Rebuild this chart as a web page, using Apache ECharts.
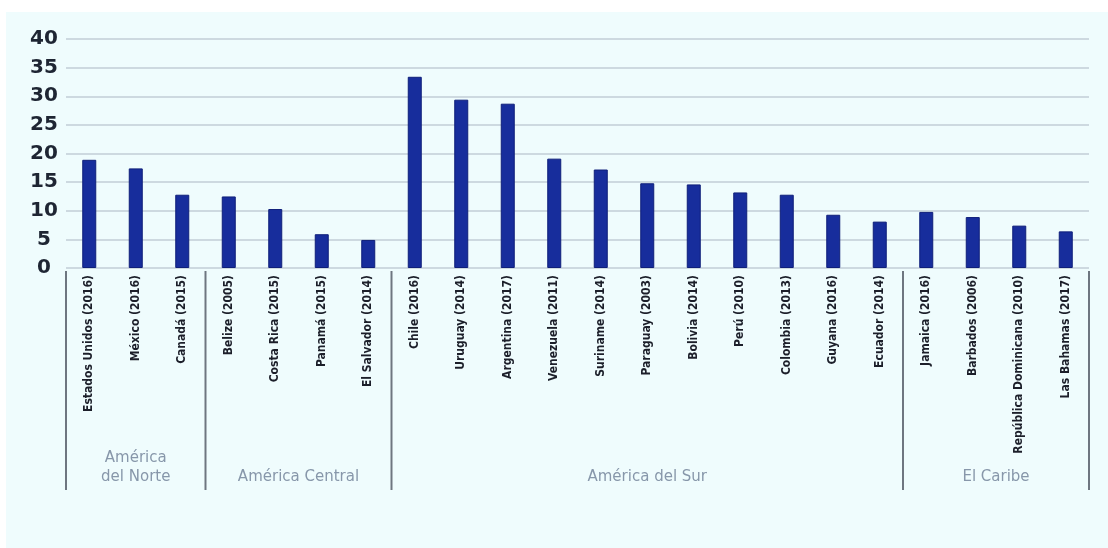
<!DOCTYPE html>
<html>
<head>
<meta charset="utf-8">
<script src="https://cdn.jsdelivr.net/npm/echarts@6/dist/echarts.min.js"></script>
<style>
	html, body { margin: 0; padding: 0; background: #ffffff; }
	#chart { position: absolute; left: 6px; top: 12px; width: 1102px; height: 536px; background: #effcfd; }
</style>
</head>
<body>
<div id="chart"></div>
<script>
	// países y valores
	var paises = [
		'Estados Unidos (2016)', 'México (2016)', 'Canadá (2015)',
		'Belize (2005)', 'Costa Rica (2015)', 'Panamá (2015)', 'El Salvador (2014)',
		'Chile (2016)', 'Uruguay (2014)', 'Argentina (2017)', 'Venezuela (2011)',
		'Suriname (2014)', 'Paraguay (2003)', 'Bolivia (2014)', 'Perú (2010)',
		'Colombia (2013)', 'Guyana (2016)', 'Ecuador (2014)',
		'Jamaica (2016)', 'Barbados (2006)', 'República Dominicana (2010)', 'Las Bahamas (2017)'
	];
	var valores = [
		18.9, 17.4, 12.8,
		12.5, 10.3, 5.9, 4.9,
		33.4, 29.4, 28.7, 19.1, 17.2, 14.8, 14.6, 13.2, 12.8, 9.3, 8.1,
		9.8, 8.9, 7.4, 6.4
	];
	// regiones y sus límites (índice del primer país de cada una, y el total)
	var regiones = ['América\ndel Norte', 'América Central', 'América del Sur', 'El Caribe'];
	var limites = [0, 3, 7, 18, 22];
	var ticksY = [0, 5, 10, 15, 20, 25, 30, 35, 40];

	var myChart = echarts.init(document.getElementById('chart'));

	var separadores = limites.map(function (v) { return [v, 0]; });
	var etiquetas = regiones.map(function (r, i) {
		return [(limites[i] + limites[i + 1]) / 2, 0, r];
	});

	var option = {
		animation: false,
		grid: { left: 60, right: 19, top: 27, bottom: 280, containLabel: false },
		xAxis: [{
			type: 'category',
			data: paises,
			axisLine: { show: false },
			axisTick: { show: false },
			axisLabel: {
				rotate: 90,
				interval: 0,
				margin: 7,
				fontFamily: "'DejaVu Sans Condensed', sans-serif",
				fontWeight: 'bold',
				fontSize: 12,
				color: '#1c1f2a'
			}
		}, {
			type: 'value',
			min: 0,
			max: 22,
			show: false
		}],
		yAxis: {
			type: 'value',
			min: ticksY[0],
			max: ticksY[ticksY.length - 1],
			interval: 5,
			axisLine: { show: false },
			axisTick: { show: false },
			axisLabel: {
				align: 'center',
				margin: 22,
				fontFamily: "'DejaVu Sans', sans-serif",
				fontWeight: 'bold',
				fontSize: 20,
				color: '#1e2533'
			},
			splitLine: { lineStyle: { color: '#cdd9e0', width: 2 } }
		},
		series: [{
			type: 'bar',
			data: valores,
			barWidth: 14,
			itemStyle: { color: '#172d9c', borderColor: '#0f1f7a', borderWidth: 1 }
		}, {
			type: 'custom',
			xAxisIndex: 1,
			data: separadores,
			clip: false,
			silent: true,
			renderItem: function (params, api) {
				var p = api.coord([api.value(0), api.value(1)]);
				return {
					type: 'line',
					shape: { x1: p[0], y1: p[1] + 3, x2: p[0], y2: p[1] + 222 },
					style: { stroke: '#6e7680', lineWidth: 2 }
				};
			}
		}, {
			type: 'custom',
			xAxisIndex: 1,
			data: etiquetas,
			clip: false,
			silent: true,
			renderItem: function (params, api) {
				var p = api.coord([api.value(0), api.value(1)]);
				return {
					type: 'text',
					x: p[0],
					y: p[1] + 219,
					style: {
						text: etiquetas[params.dataIndex][2],
						align: 'center',
						verticalAlign: 'bottom',
						fontFamily: "'DejaVu Sans', sans-serif",
						fontSize: 15,
						lineHeight: 19,
						fill: '#8797aa'
					}
				};
			}
		}]
	};
	myChart.setOption(option);
</script>
</body>
</html>
